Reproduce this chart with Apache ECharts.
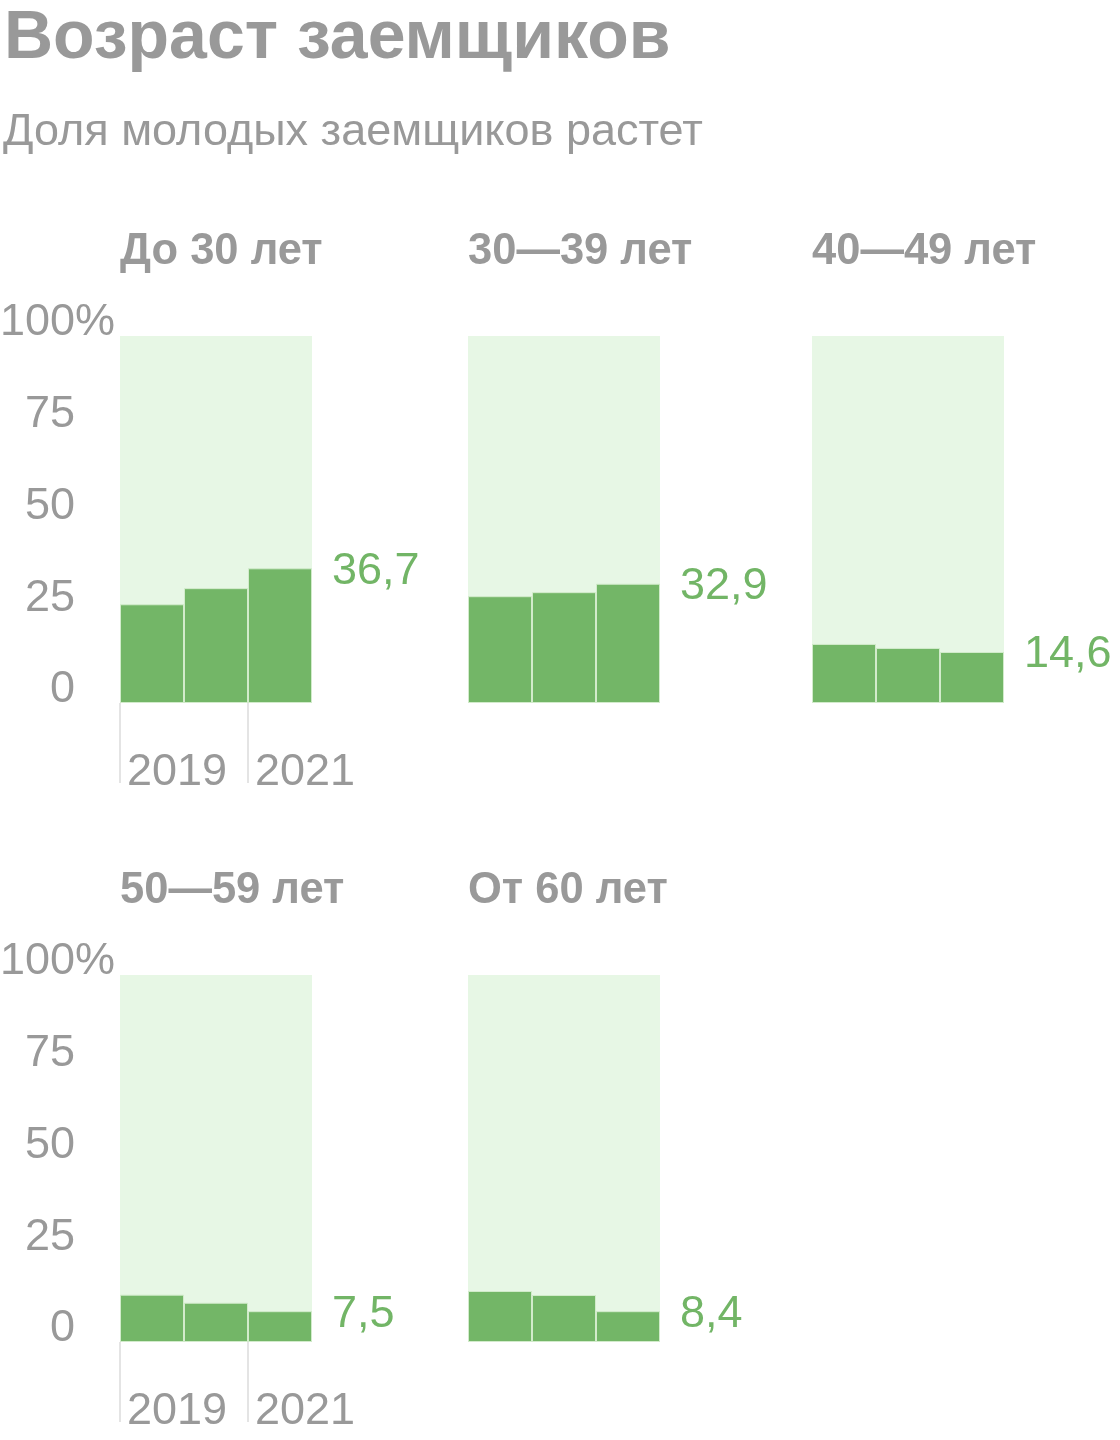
<!DOCTYPE html>
<html>
<head>
<meta charset="utf-8">
<script src="https://cdn.jsdelivr.net/npm/echarts@6/dist/echarts.min.js"></script>
<style>
html,body{margin:0;padding:0;background:#fff;}
#chart{width:1120px;height:1440px;}
</style>
</head>
<body>
<div id="chart"></div>
<script>
// ---- data ----
const chartTitle = 'Возраст заемщиков';
const chartSubtitle = 'Доля молодых заемщиков растет';
const panelTitles = ['До 30 лет', '30—39 лет', '40—49 лет', '50—59 лет', 'От 60 лет'];
const years = ['2019', '2020', '2021'];
const shares = [
  [26.9, 31.3, 36.7],
  [29.1, 30.2, 32.5],
  [16.1, 15.0, 13.9],
  [12.9, 10.7, 8.4],
  [13.9, 12.8, 8.4]
];
const latestLabels = ['36,7', '32,9', '14,6', '7,5', '8,4'];
const yMin = 0, yMax = 100, yStep = 25;

// ---- layout ----
const FONT = 'Liberation Sans';
const GRAY = '#999999';
const GREEN = '#73b667';
const panelLeft = [120, 468, 812, 120, 468];
const panelTop = [336, 336, 336, 975, 975];
const panelW = 192, panelH = 367;
const showAxes = [true, false, false, true, false];
// boundary marks: the start of each year plus the end of the last one
const yearBoundaries = years.concat(['']);

const titles = [
  {text: chartTitle, left: -1, top: 0,
   textStyle: {fontFamily: FONT, fontWeight: 'bold', fontSize: 68, color: GRAY}},
  {text: chartSubtitle, left: -2, top: 105,
   textStyle: {fontFamily: FONT, fontWeight: 'normal', fontSize: 45, color: GRAY}}
];
const grids = [], xAxes = [], yAxes = [], series = [];
panelTitles.forEach((t, i) => {
  titles.push({text: t, left: panelLeft[i] - 5, top: panelTop[i] - 111,
    textStyle: {fontFamily: FONT, fontWeight: 'bold', fontSize: 43.5, color: GRAY}});
  grids.push({left: panelLeft[i], top: panelTop[i], width: panelW, height: panelH,
    containLabel: false, outerBoundsMode: 'none',
    show: true, backgroundColor: '#e7f7e5', borderWidth: 0});
  // axis for the bars (hidden)
  xAxes.push({type: 'category', gridIndex: i, data: years, position: 'top',
    axisLine: {show: false}, axisTick: {show: false}, axisLabel: {show: false}});
  // axis for the year marks below the panel
  xAxes.push({type: 'category', gridIndex: i, data: yearBoundaries, position: 'bottom',
    boundaryGap: false, show: showAxes[i],
    axisLine: {show: false},
    axisTick: {show: true, length: 80, interval: 1, lineStyle: {color: '#dcdcdc', width: 1.5}},
    axisLabel: {show: true, interval: 1, hideOverlap: false, margin: 47, color: GRAY,
      align: 'left', fontFamily: FONT, fontSize: 45, padding: [0, 0, 0, 7]}});
  yAxes.push({type: 'value', gridIndex: i, min: yMin, max: yMax, interval: yStep,
    splitLine: {show: false}, axisLine: {show: false}, axisTick: {show: false},
    axisLabel: {show: showAxes[i], margin: 5, color: GRAY, fontFamily: FONT, fontSize: 45,
      verticalAlign: 'middle', padding: [0, 0, 26, 0],
      formatter: v => v + '{p|' + (v === yMax ? '%' : '') + '}',
      rich: {p: {width: 40, color: GRAY, fontFamily: FONT, fontSize: 45}}}});
  const last = shares[i].length - 1;
  series.push({type: 'bar', xAxisIndex: 2 * i, yAxisIndex: i, barCategoryGap: '0%',
    itemStyle: {color: GREEN, borderColor: '#d2ebcb', borderWidth: 1},
    emphasis: {disabled: true},
    data: shares[i].map((v, k) => k === last ? {
      value: v,
      label: {show: true, position: ['100%', 0], align: 'left', verticalAlign: 'middle',
        offset: [20, 3], formatter: latestLabels[i], color: '#72b566',
        fontFamily: FONT, fontSize: 45}
    } : v)});
});

const chart = echarts.init(document.getElementById('chart'), null, {renderer: 'canvas'});
chart.setOption({
  animation: false,
  title: titles,
  grid: grids,
  xAxis: xAxes,
  yAxis: yAxes,
  series: series
});
</script>
</body>
</html>
